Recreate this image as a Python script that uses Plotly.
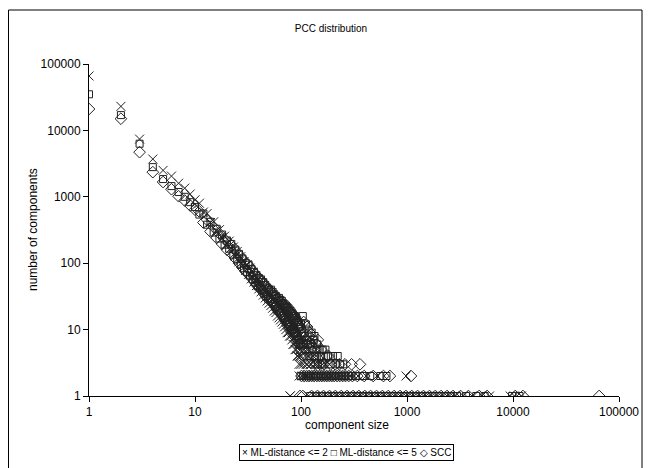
import plotly.graph_objects as go

# component sizes 1..100 (every size occurs), counts
core_size = list(range(1, 101))

mld2_core = [66000, 23000, 7400, 3700, 2500, 2050, 1600, 1350, 1100, 900,
             800, 590, 560, 410, 420, 310, 320, 240, 255, 195,
             215, 150, 175, 128, 150, 105, 125, 92, 106, 78,
             94, 68, 84, 58, 73, 52, 64, 46, 57, 41,
             53, 37, 48, 33, 43, 30, 39, 27, 36, 25,
             33, 23, 31, 21, 29, 19, 27, 18, 25, 16,
             24, 15, 22, 14, 21, 13, 19, 12, 18, 11,
             17, 10, 16, 9, 15, 9, 14, 8, 1, 8,
             12, 7, 11, 6, 10, 6, 9, 5, 8, 5,
             7, 4, 8, 4, 6, 3, 7, 4, 5, 3]

mld5_core = [35000, 17000, 6300, 2800, 1850, 1450, 1180, 1000, 830, 700,
             540, 560, 380, 420, 290, 330, 235, 270, 190, 220,
             165, 195, 135, 160, 115, 138, 98, 118, 84, 100,
             74, 95, 65, 82, 57, 74, 51, 66, 45, 60,
             43, 57, 39, 52, 35, 47, 32, 43, 29, 40,
             29, 40, 26, 37, 24, 34, 22, 32, 20, 30,
             21, 30, 19, 28, 18, 27, 16, 25, 15, 24,
             14, 23, 13, 22, 12, 21, 12, 20, 11, 19,
             11, 18, 10, 17, 10, 16, 9, 16, 9, 15,
             8, 14, 8, 13, 7, 12, 7, 11, 6, 12]

scc_core = [21000, 15000, 4700, 2350, 1670, 1300, 1020, 880, 740, 640,
            600, 410, 450, 300, 350, 240, 280, 195, 230, 160,
            200, 140, 172, 118, 145, 100, 124, 86, 107, 75,
            99, 70, 87, 60, 76, 54, 68, 48, 61, 43,
            57, 41, 53, 37, 48, 33, 44, 30, 40, 28,
            39, 28, 36, 26, 34, 24, 31, 22, 29, 20,
            28, 19, 27, 18, 25, 17, 24, 16, 23, 15,
            22, 14, 21, 13, 20, 12, 19, 12, 18, 11,
            17, 10, 16, 10, 15, 9, 14, 9, 13, 8,
            13, 7, 12, 7, 11, 6, 11, 6, 10, 5]

# scattered tail above size 100 (counts >= 3)
mld2_tail_size = [101, 103, 105, 107, 110, 112, 115, 118, 120, 125, 130, 135, 140, 160, 185,
                  116, 124, 138, 148, 170]
mld2_tail_count = [4, 6, 3, 5, 4, 3, 3, 5, 4, 3, 4, 3, 3, 3, 3,
                   4, 3, 4, 3, 3]
mld5_tail_size = [101, 103, 105, 108, 110, 113, 116, 120, 124, 128, 132, 136, 140, 145,
                  150, 155, 160, 170, 180, 200, 222, 234, 250,
                  104, 111, 118, 126, 134, 142, 157, 164, 190, 212]
mld5_tail_count = [7, 9, 6, 8, 5, 7, 6, 4, 6, 5, 7, 4, 5, 3, 5, 4, 5, 5, 4, 4, 4, 3, 3,
                   16, 12, 10, 9, 8, 6, 3, 4, 3, 3]
scc_tail_size = [102, 104, 107, 109, 112, 115, 119, 122, 126, 131, 135, 140, 148, 155,
                 165, 175, 190, 210, 260, 300, 360,
                 106, 114, 121, 129, 137, 144, 152, 182, 230]
scc_tail_count = [8, 6, 9, 5, 7, 6, 8, 5, 6, 4, 5, 6, 4, 5, 3, 4, 3, 3, 3, 3, 3,
                  13, 11, 9, 7, 3, 7, 3, 4, 3]

# sizes that occur exactly twice
mld2_two = [96, 103, 109, 114, 121, 127, 134, 142, 150, 158, 167, 176, 186, 197, 208,
            222, 236, 252, 270, 290, 318, 345, 410, 520, 980]
mld5_two = [99, 105, 111, 117, 124, 131, 138, 146, 154, 163, 172, 182, 193, 204, 216,
            229, 243, 259, 277, 298, 330, 380, 450, 560, 640]
scc_two = [101, 107, 113, 119, 126, 133, 141, 149, 157, 166, 175, 185, 195, 206, 219,
           232, 247, 263, 282, 305, 340, 395, 480, 600, 690, 1090]

# sizes that occur once
mld2_one = [79, 118, 134, 152, 173, 196, 223, 253, 288, 327, 371, 422, 479, 544, 618,
            702, 798, 906, 1030, 1170, 1330, 1510, 1710, 1950, 2210, 2520, 2870, 3400,
            4100, 5100, 6000, 9400, 10300, 12000]
mld5_one = [122, 139, 158, 179, 204, 231, 263, 299, 340, 386, 438, 498, 566, 643, 730,
            830, 943, 1070, 1215, 1380, 1570, 1780, 2020, 2300, 2610, 2960, 3600, 4500,
            5400, 9800, 11500]
scc_one = [98, 104, 126, 143, 163, 186, 211, 240, 272, 310, 352, 400, 454, 516, 586,
           666, 757, 860, 977, 1110, 1260, 1430, 1630, 1850, 2100, 2390, 2720, 3200,
           3800, 4800, 5700, 10500, 12400, 65000]


def series(core, tail_s, tail_c, two, one):
    xs = core_size + tail_s + two + one
    ys = core + tail_c + [2] * len(two) + [1] * len(one)
    return xs, ys


fig = go.Figure()
specs = [
    ("ML-distance <= 2", series(mld2_core, mld2_tail_size, mld2_tail_count, mld2_two, mld2_one), "x-thin-open", 9),
    ("ML-distance <= 5", series(mld5_core, mld5_tail_size, mld5_tail_count, mld5_two, mld5_one), "square-open", 7),
    ("SCC", series(scc_core, scc_tail_size, scc_tail_count, scc_two, scc_one), "diamond-open", 9),
]
for name, (xs, ys), sym, sz in specs:
    fig.add_trace(go.Scatter(
        x=xs, y=ys, mode="markers", name=name,
        marker=dict(symbol=sym, size=sz, color="#222222",
                    line=dict(color="#222222", width=1)),
    ))

font = "Liberation Sans, Arial, sans-serif"
axis = dict(type="log", range=[0, 5], dtick=1, showgrid=False, zeroline=False,
            showline=True, linecolor="black", linewidth=1, automargin=False,
            ticks="outside", ticklen=5, tickcolor="black", tickformat="d",
            tickfont=dict(family=font, size=12, color="black"))

# the page adds an 8px body margin, so the figure is laid out 8px up/left
fig.update_layout(
    width=651, height=468,
    margin=dict(l=81, r=40, t=56, b=80, autoexpand=False),
    paper_bgcolor="white", plot_bgcolor="white",
    showlegend=False,
    title=dict(text="PCC distribution", x=323 / 651, xref="container", xanchor="center",
               y=1 - 20 / 468, yref="container", yanchor="middle", automargin=False,
               font=dict(family=font, size=10, color="black")),
    xaxis=axis,
    yaxis=axis,
)

# axis titles
fig.add_annotation(text="component size", xref="paper", yref="paper",
                   x=258 / 530, y=-29 / 332, xanchor="center", yanchor="middle",
                   showarrow=False, font=dict(family=font, size=12, color="black"))
fig.add_annotation(text="number of components", xref="paper", yref="paper",
                   x=-56 / 530, y=0.5, xanchor="center", yanchor="middle",
                   textangle=-90, showarrow=False,
                   font=dict(family=font, size=12, color="black"))

# outer chart frame
fig.add_shape(type="rect", xref="paper", yref="paper",
              x0=-80.5 / 530, x1=553 / 530, y0=-0.3, y1=386 / 332,
              line=dict(color="black", width=1))

# legend box
fig.add_annotation(
    text="\u00d7 ML-distance <= 2 \u25a1 ML-distance <= 5 \u25c7 SCC",
    xref="paper", yref="paper", x=257 / 530, y=-48 / 332,
    xanchor="center", yanchor="top",
    showarrow=False, font=dict(family=font, size=10, color="black"),
    bordercolor="black", borderwidth=1, borderpad=2, bgcolor="white")

fig.write_html("out.html")
